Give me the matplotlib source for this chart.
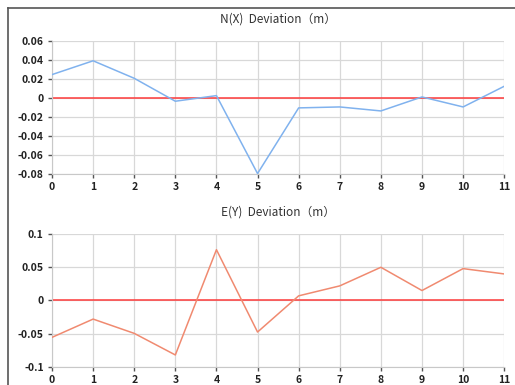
import matplotlib
matplotlib.use('Agg')
import matplotlib.pyplot as plt
from matplotlib.lines import Line2D

plt.rcParams['font.family'] = ['Noto Sans CJK KR', 'DejaVu Sans']

# data
points = list(range(12))
n_dev = [0.0245, 0.039, 0.0206, -0.0035, 0.0024, -0.0795, -0.0105, -0.0095, -0.0137, 0.001, -0.0095, 0.0122]
e_dev = [-0.0555, -0.028, -0.0495, -0.082, 0.0765, -0.0475, 0.007, 0.022, 0.050, 0.015, 0.048, 0.040]

n_ticks = [0.06, 0.04, 0.02, 0, -0.02, -0.04, -0.06, -0.08]
n_labels = ['0.06', '0.04', '0.02', '0', '-0.02', '-0.04', '-0.06', '-0.08']
e_ticks = [0.1, 0.05, 0, -0.05, -0.1]
e_labels = ['0.1', '0.05', '0', '-0.05', '-0.1']

fig = plt.figure(figsize=(5.15, 3.85), dpi=100)
fig.patch.set_facecolor('white')

ax1 = fig.add_axes([0.101, 0.548, 0.878, 0.346])
ax2 = fig.add_axes([0.101, 0.047, 0.878, 0.345])


def style(ax, ticks, labels, ylim, title):
    ax.set_xlim(0, 11)
    ax.set_ylim(*ylim)
    ax.set_xticks(points)
    ax.set_yticks(ticks)
    ax.set_yticklabels(labels)
    ax.grid(True, color='#d8d8d8', linewidth=0.9)
    ax.set_axisbelow(True)
    for s in ['top', 'right']:
        ax.spines[s].set_visible(False)
    for s in ['left', 'bottom']:
        ax.spines[s].set_color('#c8c8c8')
    ax.tick_params(axis='both', length=3, width=1, color='#555555',
                   labelsize=7.5, labelcolor='#222222', pad=3)
    for lab in ax.get_xticklabels() + ax.get_yticklabels():
        lab.set_fontweight('bold')
    ax.axhline(0, color='#ff3b3b', linewidth=1.1, zorder=2)
    ax.set_title(title, fontsize=8.5, color='#333333', pad=13)


ax1.plot(points, n_dev, color='#80b2ee', linewidth=1.1, zorder=3)
style(ax1, n_ticks, n_labels, (-0.08, 0.06), 'N(X)  Deviation（m）')

ax2.plot(points, e_dev, color='#f08a70', linewidth=1.1, zorder=3)
style(ax2, e_ticks, e_labels, (-0.1, 0.1), 'E(Y)  Deviation（m）')

# window border (top and left)
fig.add_artist(Line2D([7.5 / 515, 7.5 / 515], [0, 1 - 8 / 385], transform=fig.transFigure,
                      color='#555555', linewidth=1.2))
fig.add_artist(Line2D([7.5 / 515, 1], [1 - 8 / 385, 1 - 8 / 385], transform=fig.transFigure,
                      color='#555555', linewidth=1.2))

fig.savefig('out.png', dpi=100)
